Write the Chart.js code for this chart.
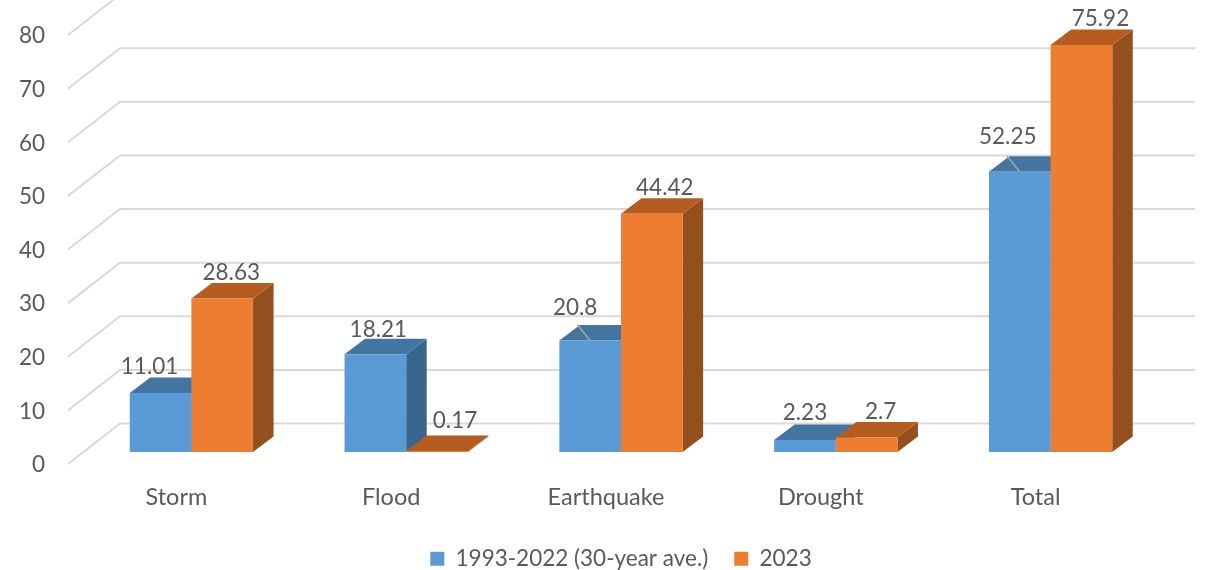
<!DOCTYPE html>
<html>
<head>
<meta charset="utf-8">
<title>Losses by disaster type</title>
<script src="https://cdn.jsdelivr.net/npm/chart.js@4"></script>
<style>
  html, body { margin: 0; background: #fff; }
  canvas { display: block; }
</style>
</head>
<body>
<canvas id="chartLosses" width="1206" height="570"></canvas>
<script>
// Data
const categories = ['Storm', 'Flood', 'Earthquake', 'Drought', 'Total'];
const seriesNames = ['1993-2022 (30-year ave.)', '2023'];
const averageValues = [11.01, 18.21, 20.8, 2.23, 52.25];
const valuesFor2023 = [28.63, 0.17, 44.42, 2.7, 75.92];
const tickValues = [0, 10, 20, 30, 40, 50, 60, 70, 80];

// Where each value label sits relative to the top of its bar
const labelNudges = [
  [[-11, -27], [3, -26], [-15, -34], [0, -28], [-12, -36]],
  [[9, -27], [18, -31], [13, -27], [14, -27], [19, -27]]
];
// Only the labels pushed away from their bar get a leader line
const leaderLines = [
  [false, false, true, false, true],
  [false, false, false, false, false]
];

// Colours
const textColor = '#595959';
const gridColor = '#D9D9D9';
const leaderColor = '#A6A6A6';
const faces = [
  { front: '#5B9BD5', top: '#4475A1', side: '#38668C' },
  { front: '#ED7D31', top: '#B55D21', side: '#934F1D' }
];

// Fake 3D: how far the back of a bar is shifted from its front
const depthX = 20.5;
const depthY = 15.5;
// The wall sits behind the bars, the floor edge comes out in front of them
const wallX = 120;
const wallRight = 1195;
const wallLift = 28.5;
const floorX = 68;
const floorDrop = 12;

function polygon(ctx, points, color) {
  ctx.fillStyle = color;
  ctx.beginPath();
  points.forEach((p, i) => i ? ctx.lineTo(p[0], p[1]) : ctx.moveTo(p[0], p[1]));
  ctx.closePath();
  ctx.fill();
}

const wallAndDepth = {
  id: 'wallAndDepth',
  afterLayout(chart) {
    // move the legend to its own spot under the plot
    const legend = chart.legend;
    const labels = legend.options.labels;
    legend.left += 42;
    legend.right += 42;
    legend.top = 561 - labels.padding - labels.font.size * 0.6;
    // category labels get clipped to the scale box, so let it run to the page edge
    chart.scales.x.bottom = 570;
  },
  beforeDatasetsDraw(chart) {
    const { ctx, scales: { y } } = chart;
    ctx.save();

    // wall grid with the diagonal running down to the floor edge
    ctx.strokeStyle = gridColor;
    ctx.lineWidth = 2;
    tickValues.forEach(v => {
      const py = y.getPixelForValue(v);
      ctx.beginPath();
      ctx.moveTo(floorX, py + floorDrop);
      ctx.lineTo(wallX, py - wallLift);
      ctx.lineTo(wallRight, py - wallLift);
      ctx.stroke();
    });

    // top and side faces; Chart.js paints the front faces over these
    categories.forEach((c, i) => {
      faces.forEach((face, d) => {
        const bar = chart.getDatasetMeta(d).data[i];
        const left = bar.x - bar.width / 2;
        const right = bar.x + bar.width / 2;
        polygon(ctx, [
          [right, bar.y], [right + depthX, bar.y - depthY],
          [right + depthX, bar.base - depthY], [right, bar.base]
        ], face.side);
        polygon(ctx, [
          [left, bar.y], [left + depthX, bar.y - depthY],
          [right + depthX, bar.y - depthY], [right, bar.y]
        ], face.top);
      });
    });
    ctx.restore();
  },
  afterDatasetsDraw(chart) {
    const { ctx } = chart;
    ctx.save();
    ctx.font = '22.5px Lato';
    ctx.textAlign = 'center';
    ctx.textBaseline = 'middle';
    [averageValues, valuesFor2023].forEach((values, d) => {
      values.forEach((value, i) => {
        const bar = chart.getDatasetMeta(d).data[i];
        if (leaderLines[d][i]) {
          ctx.strokeStyle = leaderColor;
          ctx.lineWidth = 1.5;
          ctx.beginPath();
          ctx.moveTo(bar.x, bar.y);
          ctx.lineTo(bar.x - 13, bar.y - 16);
          ctx.stroke();
        }
        ctx.fillStyle = textColor;
        ctx.fillText(String(value), bar.x + labelNudges[d][i][0], bar.y + labelNudges[d][i][1] + 1);
      });
    });
    ctx.restore();
  }
};

new Chart(document.getElementById('chartLosses'), {
  type: 'bar',
  data: {
    labels: categories,
    datasets: [
      { label: seriesNames[0], data: averageValues, backgroundColor: faces[0].front },
      { label: seriesNames[1], data: valuesFor2023, backgroundColor: faces[1].front }
    ]
  },
  options: {
    responsive: false,
    animation: false,
    events: [],
    layout: { padding: { top: 23, right: 48, left: 0, bottom: 0 } },
    datasets: { bar: { categoryPercentage: 0.574, barPercentage: 1, borderWidth: 0 } },
    plugins: {
      legend: {
        position: 'bottom',
        labels: {
          font: { family: 'Lato', size: 22.5 },
          color: textColor,
          boxWidth: 14,
          boxHeight: 14,
          padding: 26
        }
      },
      tooltip: { enabled: false }
    },
    scales: {
      x: {
        grid: { display: false, drawTicks: false },
        border: { display: false },
        ticks: {
          font: { family: 'Lato', size: 23.5 },
          color: textColor,
          labelOffset: -15,
          maxRotation: 0,
          padding: 31
        },
        afterFit(scale) { scale.height = 118 - scale.chart.legend.height; }
      },
      y: {
        min: 0,
        max: 80,
        grid: { display: false, drawTicks: false },
        border: { display: false },
        ticks: {
          stepSize: 10,
          font: { family: 'Lato', size: 22.5 },
          color: textColor,
          labelOffset: 13,
          padding: 39
        },
        afterFit(scale) {
          scale.width = 84;
          // the top tick label may overhang, the plot height is fixed anyway
          scale.paddingTop = 0;
          scale.paddingBottom = 0;
        }
      }
    }
  },
  plugins: [wallAndDepth]
});
</script>
</body>
</html>
